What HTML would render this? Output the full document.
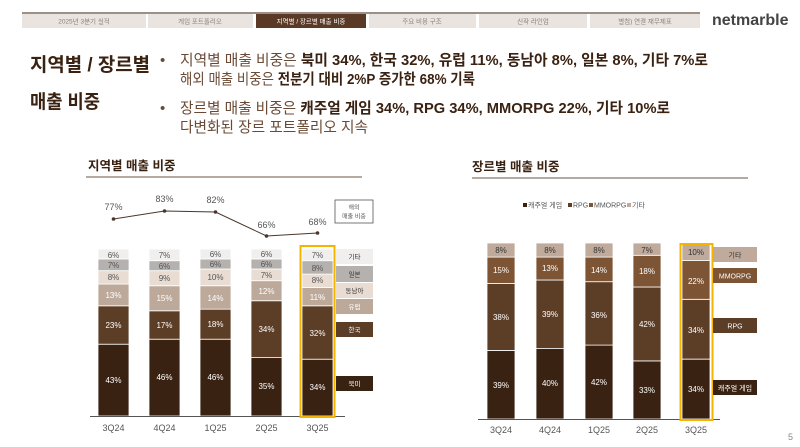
<!DOCTYPE html>
<html><head><meta charset="utf-8"><style>
body{margin:0;background:#fff;}
svg{display:block;font-family:"Liberation Sans","Noto Sans CJK KR",sans-serif;}
</style></head><body>
<svg width="800" height="447" viewBox="0 0 800 447" xmlns="http://www.w3.org/2000/svg">
<rect width="800" height="447" fill="#fff"/>
<line x1="22" y1="13" x2="700" y2="13" stroke="#7a6a5e" stroke-width="1.5"/>
<g font-size="6.5" fill="#8a7f78" text-anchor="middle">
<rect x="22" y="14" width="124" height="14" fill="#e9e4e0"/><text x="84" y="23.5">2025년 3분기 실적</text>
<rect x="148" y="14" width="105" height="14" fill="#e9e4e0"/><text x="200" y="23.5">게임 포트폴리오</text>
<rect x="256" y="14" width="110" height="14" fill="#5a3a26"/><text x="311" y="23.5" fill="#fff">지역별 / 장르별 매출 비중</text>
<rect x="369" y="14" width="107" height="14" fill="#e9e4e0"/><text x="422" y="23.5">주요 비용 구조</text>
<rect x="479" y="14" width="108" height="14" fill="#e9e4e0"/><text x="533" y="23.5">신작 라인업</text>
<rect x="590" y="14" width="110" height="14" fill="#e9e4e0"/><text x="645" y="23.5">별첨) 연결 재무제표</text>
</g>
<text x="712" y="25" font-size="16" fill="#444" font-weight="bold">netmarble</text>
<text x="30" y="71" font-size="19" font-weight="bold" fill="#3a2212" textLength="120" lengthAdjust="spacingAndGlyphs">지역별 / 장르별</text>
<text x="30" y="108" font-size="19" font-weight="bold" fill="#3a2212" textLength="70" lengthAdjust="spacingAndGlyphs">매출 비중</text>
<g font-size="15" fill="#6b4a35">
<text x="160" y="65">•</text>
<text x="180" y="65" textLength="528" lengthAdjust="spacingAndGlyphs">지역별 매출 비중은 <tspan font-weight="bold" fill="#3a2212">북미 34%, 한국 32%, 유럽 11%, 동남아 8%, 일본 8%, 기타 7%로</tspan></text>
<text x="180" y="84" textLength="295" lengthAdjust="spacingAndGlyphs">해외 매출 비중은 <tspan font-weight="bold" fill="#3a2212">전분기 대비 2%P 증가한 68% 기록</tspan></text>
<text x="160" y="113">•</text>
<text x="180" y="113" textLength="490" lengthAdjust="spacingAndGlyphs">장르별 매출 비중은 <tspan font-weight="bold" fill="#3a2212">캐주얼 게임 34%, RPG 34%, MMORPG 22%, 기타 10%로</tspan></text>
<text x="180" y="132" textLength="188" lengthAdjust="spacingAndGlyphs">다변화된 장르 포트폴리오 지속</text>
</g>
<text x="88" y="170" font-size="12.5" font-weight="bold" fill="#3a2212">지역별 매출 비중</text>
<line x1="86" y1="177" x2="362" y2="177" stroke="#9b8d84" stroke-width="1.5"/>
<text x="472" y="171" font-size="12.5" font-weight="bold" fill="#3a2212">장르별 매출 비중</text>
<line x1="472" y1="178" x2="748" y2="178" stroke="#9b8d84" stroke-width="1.5"/>

<g font-size="8" text-anchor="middle">
<g stroke="#fff" stroke-width="0.8">
<rect x="98" y="344.2" width="31" height="71.8" fill="#3a2212"/>
<rect x="98" y="305.8" width="31" height="38.4" fill="#5c3d26"/>
<rect x="98" y="284.1" width="31" height="21.7" fill="#bca99a"/>
<rect x="98" y="270.7" width="31" height="13.4" fill="#e8dcd3"/>
<rect x="98" y="259" width="31" height="11.7" fill="#b5b1ae"/>
<rect x="98" y="249" width="31" height="10" fill="#f0efee"/>
<rect x="149" y="339.2" width="31" height="76.8" fill="#3a2212"/>
<rect x="149" y="310.8" width="31" height="28.4" fill="#5c3d26"/>
<rect x="149" y="285.8" width="31" height="25" fill="#bca99a"/>
<rect x="149" y="270.7" width="31" height="15" fill="#e8dcd3"/>
<rect x="149" y="260.7" width="31" height="10" fill="#b5b1ae"/>
<rect x="149" y="249" width="31" height="11.7" fill="#f0efee"/>
<rect x="200" y="339.2" width="31" height="76.8" fill="#3a2212"/>
<rect x="200" y="309.1" width="31" height="30.1" fill="#5c3d26"/>
<rect x="200" y="285.8" width="31" height="23.4" fill="#bca99a"/>
<rect x="200" y="269" width="31" height="16.7" fill="#e8dcd3"/>
<rect x="200" y="259" width="31" height="10" fill="#b5b1ae"/>
<rect x="200" y="249" width="31" height="10" fill="#f0efee"/>
<rect x="251" y="357.5" width="31" height="58.5" fill="#3a2212"/>
<rect x="251" y="300.8" width="31" height="56.8" fill="#5c3d26"/>
<rect x="251" y="280.7" width="31" height="20" fill="#bca99a"/>
<rect x="251" y="269" width="31" height="11.7" fill="#e8dcd3"/>
<rect x="251" y="259" width="31" height="10" fill="#b5b1ae"/>
<rect x="251" y="249" width="31" height="10" fill="#f0efee"/>
<rect x="302" y="359.2" width="31" height="56.8" fill="#3a2212"/>
<rect x="302" y="305.8" width="31" height="53.4" fill="#5c3d26"/>
<rect x="302" y="287.4" width="31" height="18.4" fill="#bca99a"/>
<rect x="302" y="274.1" width="31" height="13.4" fill="#e8dcd3"/>
<rect x="302" y="260.7" width="31" height="13.4" fill="#b5b1ae"/>
<rect x="302" y="249" width="31" height="11.7" fill="#f0efee"/>
</g>
<line x1="90" y1="416.5" x2="345" y2="416.5" stroke="#555" stroke-width="1"/>
<rect x="300.5" y="246" width="34" height="171" fill="none" stroke="#f5b400" stroke-width="2"/>
<g fill="#fff">
<text x="113.5" y="383">43%</text><text x="113.5" y="328">23%</text>
<text x="164.5" y="380">46%</text><text x="164.5" y="328">17%</text>
<text x="215.5" y="380">46%</text><text x="215.5" y="327">18%</text>
<text x="266.5" y="389">35%</text><text x="266.5" y="332">34%</text>
<text x="317.5" y="390">34%</text><text x="317.5" y="336">32%</text>
<text x="113.5" y="298">13%</text><text x="164.5" y="301">15%</text><text x="215.5" y="301">14%</text><text x="266.5" y="294">12%</text><text x="317.5" y="300">11%</text>
</g>
<g fill="#555">
<text x="113.5" y="280">8%</text><text x="113.5" y="268">7%</text><text x="113.5" y="258">6%</text>
<text x="164.5" y="281">9%</text><text x="164.5" y="269">6%</text><text x="164.5" y="258">7%</text>
<text x="215.5" y="280">10%</text><text x="215.5" y="267">6%</text><text x="215.5" y="257">6%</text>
<text x="266.5" y="278">7%</text><text x="266.5" y="267">6%</text><text x="266.5" y="257">6%</text>
<text x="317.5" y="283">8%</text><text x="317.5" y="271">8%</text><text x="317.5" y="258">7%</text>
</g>
<polyline points="113.5,219 164.5,211 215.5,212 266.5,236 317.5,233" fill="none" stroke="#4a362a" stroke-width="1"/>
<g fill="#4a362a"><circle cx="113.5" cy="219" r="1.8"/><circle cx="164.5" cy="211" r="1.8"/><circle cx="215.5" cy="212" r="1.8"/><circle cx="266.5" cy="236" r="1.8"/><circle cx="317.5" cy="233" r="1.8"/></g>
<g fill="#555" font-size="9">
<text x="113.5" y="210">77%</text><text x="164.5" y="202">83%</text><text x="215.5" y="203">82%</text><text x="266.5" y="228">66%</text><text x="317.5" y="225">68%</text>
</g>
<rect x="335" y="200" width="38" height="23" fill="#fff" stroke="#555" stroke-width="0.8"/>
<text x="354" y="209.5" font-size="6" fill="#555">해외</text>
<text x="354" y="218.5" font-size="6" fill="#555">매출 비중</text>
<rect x="336" y="249" width="37" height="15" fill="#f0efee"/><text x="354.5" y="259" font-size="6.5" fill="#333">기타</text>
<rect x="336" y="266" width="37" height="16" fill="#b5b1ae"/><text x="354.5" y="276.5" font-size="6.5" fill="#333">일본</text>
<rect x="336" y="283" width="37" height="15" fill="#e8dcd3"/><text x="354.5" y="293" font-size="6.5" fill="#333">동남아</text>
<rect x="336" y="299" width="37" height="15" fill="#bca99a"/><text x="354.5" y="309" font-size="6.5" fill="#fff">유럽</text>
<rect x="336" y="322" width="37" height="15" fill="#5c3d26"/><text x="354.5" y="332" font-size="6.5" fill="#fff">한국</text>
<rect x="336" y="376" width="37" height="15" fill="#3a2212"/><text x="354.5" y="386" font-size="6.5" fill="#fff">북미</text>
<g fill="#555" font-size="9">
<text x="113.5" y="431">3Q24</text><text x="164.5" y="431">4Q24</text><text x="215.5" y="431">1Q25</text><text x="266.5" y="431">2Q25</text><text x="317.5" y="431">3Q25</text>
</g>
</g>

<g font-size="8" text-anchor="middle">
<g stroke="#fff" stroke-width="0.8">
<rect x="487" y="350.4" width="28" height="68.6" fill="#3a2212"/>
<rect x="487" y="283.5" width="28" height="66.9" fill="#5c3d26"/>
<rect x="487" y="257.1" width="28" height="26.4" fill="#7d5434"/>
<rect x="487" y="243" width="28" height="14.1" fill="#bfaa9b"/>
<rect x="536" y="348.6" width="28" height="70.4" fill="#3a2212"/>
<rect x="536" y="280" width="28" height="68.6" fill="#5c3d26"/>
<rect x="536" y="257.1" width="28" height="22.9" fill="#7d5434"/>
<rect x="536" y="243" width="28" height="14.1" fill="#bfaa9b"/>
<rect x="585" y="345.1" width="28" height="73.9" fill="#3a2212"/>
<rect x="585" y="281.7" width="28" height="63.4" fill="#5c3d26"/>
<rect x="585" y="257.1" width="28" height="24.6" fill="#7d5434"/>
<rect x="585" y="243" width="28" height="14.1" fill="#bfaa9b"/>
<rect x="633" y="360.9" width="28" height="58.1" fill="#3a2212"/>
<rect x="633" y="287" width="28" height="73.9" fill="#5c3d26"/>
<rect x="633" y="255.3" width="28" height="31.7" fill="#7d5434"/>
<rect x="633" y="243" width="28" height="12.3" fill="#bfaa9b"/>
<rect x="682" y="359.2" width="28" height="59.8" fill="#3a2212"/>
<rect x="682" y="299.3" width="28" height="59.8" fill="#5c3d26"/>
<rect x="682" y="260.6" width="28" height="38.7" fill="#7d5434"/>
<rect x="682" y="243" width="28" height="17.6" fill="#bfaa9b"/>
</g>
<line x1="478" y1="419.5" x2="720" y2="419.5" stroke="#555" stroke-width="1"/>
<rect x="680.5" y="244" width="32" height="176" fill="none" stroke="#f5b400" stroke-width="2"/>
<g fill="#fff">
<text x="501" y="388">39%</text><text x="501" y="320">38%</text><text x="501" y="273">15%</text>
<text x="550" y="386">40%</text><text x="550" y="317">39%</text><text x="550" y="271">13%</text>
<text x="599" y="385">42%</text><text x="599" y="318">36%</text><text x="599" y="273">14%</text>
<text x="647" y="393">33%</text><text x="647" y="327">42%</text><text x="647" y="274">18%</text>
<text x="696" y="392">34%</text><text x="696" y="333">34%</text><text x="696" y="284">22%</text>
</g>
<g fill="#333">
<text x="501" y="253">8%</text><text x="550" y="253">8%</text><text x="599" y="253">8%</text><text x="647" y="253">7%</text><text x="696" y="255">10%</text>
</g>
<rect x="713" y="247" width="44" height="15" fill="#bfaa9b"/><text x="735" y="257.5" font-size="7" fill="#333">기타</text>
<rect x="713" y="268" width="44" height="15" fill="#7d5434"/><text x="735" y="278.5" font-size="7" fill="#fff">MMORPG</text>
<rect x="713" y="318" width="44" height="15" fill="#5c3d26"/><text x="735" y="328.5" font-size="7" fill="#fff">RPG</text>
<rect x="713" y="380" width="44" height="15" fill="#3a2212"/><text x="735" y="390.5" font-size="7" fill="#fff">캐주얼 게임</text>
<g text-anchor="start" font-size="7" fill="#555">
<rect x="523" y="203" width="4" height="4" fill="#3a2212"/><text x="528" y="207.5">캐주얼 게임</text>
<rect x="568" y="203" width="4" height="4" fill="#5c3d26"/><text x="573" y="207.5">RPG</text>
<rect x="589" y="203" width="4" height="4" fill="#7d5434"/><text x="594" y="207.5">MMORPG</text>
<rect x="627" y="203" width="4" height="4" fill="#bfaa9b"/><text x="632" y="207.5">기타</text>
</g>
<g fill="#555" font-size="9">
<text x="501" y="433">3Q24</text><text x="550" y="433">4Q24</text><text x="599" y="433">1Q25</text><text x="647" y="433">2Q25</text><text x="696" y="433">3Q25</text>
</g>
</g>
<text x="788" y="440" font-size="9" fill="#888">5</text>
</svg>
</body></html>
